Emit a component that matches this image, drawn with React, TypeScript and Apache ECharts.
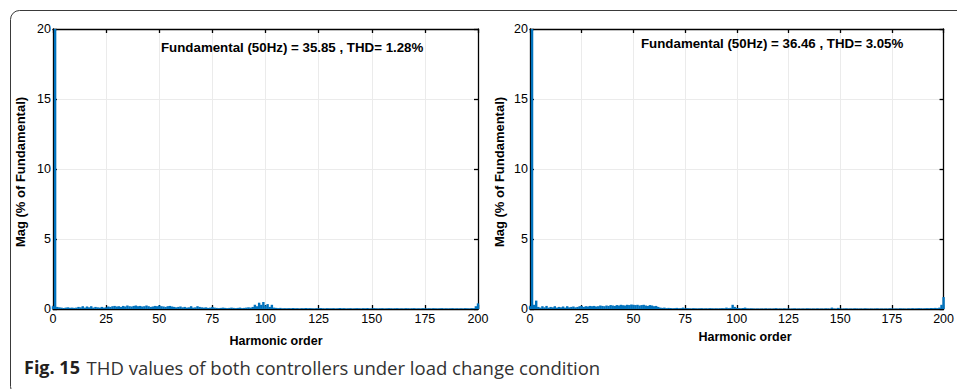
import React, { useEffect, useRef } from "react";
import * as echarts from "echarts";

const xTicks = [0, 25, 50, 75, 100, 125, 150, 175, 200];
const yTicks = [0, 5, 10, 15, 20];

// harmonic magnitude (% of fundamental), index = harmonic order 0..200
const magLeft = [
  0.2, 100, 0.15, 0.12, 0.1, 0.08, 0.1, 0.12, 0.09, 0.1, 0.08,
  0.1, 0.15, 0.12, 0.2, 0.1, 0.18, 0.12, 0.2, 0.1, 0.15,
  0.12, 0.1, 0.15, 0.1, 0.12, 0.18, 0.15, 0.2, 0.22, 0.18,
  0.2, 0.15, 0.22, 0.18, 0.25, 0.2, 0.18, 0.22, 0.25, 0.2,
  0.22, 0.18, 0.2, 0.25, 0.2, 0.15, 0.18, 0.22, 0.2, 0.25,
  0.2, 0.18, 0.15, 0.2, 0.22, 0.18, 0.15, 0.12, 0.15, 0.18,
  0.12, 0.15, 0.1, 0.12, 0.2, 0.1, 0.12, 0.2, 0.15, 0.12,
  0.1, 0.12, 0.08, 0.1, 0.15, 0.1, 0.08, 0.06, 0.08, 0.1,
  0.08, 0.06, 0.08, 0.1, 0.08, 0.06, 0.08, 0.1, 0.06, 0.08,
  0.1, 0.12, 0.1, 0.15, 0.3, 0.2, 0.45, 0.3, 0.5, 0.25,
  0.35, 0.15, 0.3, 0.1, 0.08, 0.06, 0.08, 0.05, 0.06, 0.05,
  0.06, 0.05, 0.07, 0.05, 0.06, 0.04, 0.06, 0.05, 0.07, 0.05,
  0.06, 0.05, 0.04, 0.06, 0.05, 0.07, 0.05, 0.04, 0.06, 0.05,
  0.05, 0.06, 0.04, 0.05, 0.07, 0.05, 0.06, 0.04, 0.05, 0.06,
  0.04, 0.05, 0.06, 0.05, 0.04, 0.06, 0.05, 0.07, 0.04, 0.05,
  0.06, 0.05, 0.04, 0.05, 0.06, 0.04, 0.05, 0.06, 0.05, 0.04,
  0.05, 0.06, 0.04, 0.05, 0.04, 0.06, 0.05, 0.04, 0.05, 0.06,
  0.04, 0.05, 0.04, 0.06, 0.05, 0.04, 0.05, 0.04, 0.06, 0.05,
  0.04, 0.05, 0.06, 0.04, 0.05, 0.04, 0.05, 0.06, 0.04, 0.05,
  0.04, 0.05, 0.04, 0.06, 0.05, 0.04, 0.06, 0.05, 0.2, 0.4,
];

const magRight = [
  0.2, 100, 0.3, 0.6, 0.15, 0.1, 0.2, 0.12, 0.22, 0.1, 0.15,
  0.12, 0.2, 0.1, 0.15, 0.12, 0.18, 0.1, 0.2, 0.12, 0.15,
  0.18, 0.12, 0.15, 0.2, 0.22, 0.15, 0.2, 0.18, 0.22, 0.2,
  0.22, 0.18, 0.2, 0.25, 0.22, 0.2, 0.25, 0.22, 0.28, 0.25,
  0.22, 0.28, 0.25, 0.3, 0.27, 0.25, 0.3, 0.28, 0.32, 0.3,
  0.28, 0.3, 0.25, 0.28, 0.3, 0.25, 0.22, 0.28, 0.25, 0.2,
  0.22, 0.15, 0.1, 0.08, 0.1, 0.06, 0.08, 0.07, 0.05, 0.06,
  0.08, 0.05, 0.06, 0.1, 0.05, 0.06, 0.05, 0.04, 0.06, 0.05,
  0.04, 0.05, 0.06, 0.04, 0.05, 0.04, 0.06, 0.05, 0.04, 0.05,
  0.04, 0.05, 0.06, 0.05, 0.1, 0.06, 0.08, 0.3, 0.15, 0.08,
  0.06, 0.05, 0.07, 0.1, 0.05, 0.04, 0.05, 0.04, 0.03, 0.04,
  0.03, 0.04, 0.03, 0.05, 0.03, 0.04, 0.03, 0.04, 0.06, 0.03,
  0.04, 0.03, 0.05, 0.03, 0.04, 0.03, 0.04, 0.05, 0.03, 0.04,
  0.03, 0.04, 0.03, 0.05, 0.04, 0.03, 0.04, 0.03, 0.05, 0.03,
  0.04, 0.03, 0.05, 0.04, 0.03, 0.1, 0.04, 0.03, 0.08, 0.04,
  0.03, 0.04, 0.05, 0.03, 0.04, 0.03, 0.05, 0.04, 0.03, 0.04,
  0.03, 0.05, 0.04, 0.03, 0.04, 0.03, 0.04, 0.05, 0.03, 0.04,
  0.03, 0.04, 0.03, 0.05, 0.04, 0.03, 0.04, 0.03, 0.05, 0.04,
  0.04, 0.03, 0.05, 0.04, 0.06, 0.04, 0.05, 0.06, 0.05, 0.04,
  0.05, 0.06, 0.05, 0.07, 0.06, 0.08, 0.06, 0.1, 0.3, 0.85,
];

const annotLeft = "Fundamental (50Hz) = 35.85 , THD= 1.28%";
const annotRight = "Fundamental (50Hz) = 36.46 , THD= 3.05%";
const yName = "Mag (% of Fundamental)";
const xName = "Harmonic order";
const captionBold = "Fig. 15";
const captionText = "THD values of both controllers under load change condition";

const FONT = "'Liberation Sans', Arial, sans-serif";
const BAR = "#0072BD";

export default function App() {
  const ref = useRef<HTMLDivElement>(null);
  useEffect(() => {
    if (!ref.current) return;
    const chart = echarts.init(ref.current, undefined, { renderer: "svg" });
    const grids = [
      { left: 53, top: 29, width: 425, height: 280 },
      { left: 530, top: 29, width: 424, height: 280 },
    ];
    const axisLine = { show: true, onZero: false, lineStyle: { color: "#000", width: 1.3 } };
    const tick = { show: true, inside: true, length: 4, lineStyle: { color: "#000", width: 1.3 } };
    const xAxes: any[] = [];
    const yAxes: any[] = [];
    grids.forEach((_, gi) => {
      xAxes.push({
        type: "value", gridIndex: gi, min: 0, max: 200, interval: 25, position: "bottom",
        axisLine, axisTick: tick,
        axisLabel: { color: "#000", fontSize: 12.5, fontFamily: FONT, margin: 3,
          formatter: (v: number) => (xTicks.includes(v) ? String(v) : "") },
        splitLine: { show: true, lineStyle: { color: "#ebebeb", width: 1 } },
      });
      xAxes.push({
        type: "value", gridIndex: gi, min: 0, max: 200, interval: 25, position: "top",
        axisLine, axisTick: tick,
        axisLabel: { show: false }, splitLine: { show: false },
      });
      yAxes.push({
        type: "value", gridIndex: gi, min: 0, max: 20, interval: 5, position: "left",
        axisLine, axisTick: tick,
        axisLabel: { color: "#000", fontSize: 12.5, fontFamily: FONT, margin: 2,
          formatter: (v: number) => (yTicks.includes(v) ? String(v) : "") },
        splitLine: { show: true, lineStyle: { color: "#ebebeb", width: 1 } },
      });
      yAxes.push({
        type: "value", gridIndex: gi, min: 0, max: 20, interval: 5, position: "right",
        axisLine, axisTick: tick,
        axisLabel: { show: false }, splitLine: { show: false },
      });
    });
    const mk = (arr: number[], gi: number) => ({
      type: "bar",
      xAxisIndex: gi * 2,
      yAxisIndex: gi * 2,
      data: arr.map((v, i) => [i, v]),
      barWidth: 2.4,
      clip: true,
      itemStyle: { color: BAR },
      silent: true,
    });
    const txt = (x: number, y: number, text: string, size: number, extra: any = {}) => ({
      type: "text", x, y, z: 100,
      style: { text, fill: "#000", font: `bold ${size}px ${FONT}`, textAlign: "left", textVerticalAlign: "middle", ...extra },
    });
    chart.setOption({
      animation: false,
      backgroundColor: "#fff",
      grid: grids,
      xAxis: xAxes,
      yAxis: yAxes,
      series: [mk(magLeft, 0), mk(magRight, 1)],
      graphic: [
        {
          type: "rect", shape: { x: 10.5, y: 10.5, width: 960, height: 385, r: 9 },
          style: { fill: "none", stroke: "#3a3a3a", lineWidth: 1 }, silent: true,
        },
        txt(161, 47, annotLeft, 13.3),
        txt(641, 43, annotRight, 13.3),
        { ...txt(20, 172, yName, 13, { textAlign: "center" }), rotation: Math.PI / 2 },
        { ...txt(499, 172, yName, 13, { textAlign: "center" }), rotation: Math.PI / 2 },
        txt(276, 341, xName, 12.5, { textAlign: "center" }),
        txt(745, 337, xName, 12.5, { textAlign: "center" }),
        {
          type: "text", x: 24, y: 367, z: 100,
          style: {
            text: `{b|${captionBold}}  {n|${captionText}}`,
            textVerticalAlign: "middle",
            rich: {
              b: { font: "bold 18px 'Open Sans', sans-serif", fill: "#231f20" },
              n: { font: "18.5px 'Open Sans', sans-serif", fill: "#333" },
            },
          },
        },
      ],
    });
    return () => chart.dispose();
  }, []);
  return (
    <div
      ref={ref}
      style={{ position: "fixed", left: 0, top: 0, width: 957, height: 389 }}
    />
  );
}
